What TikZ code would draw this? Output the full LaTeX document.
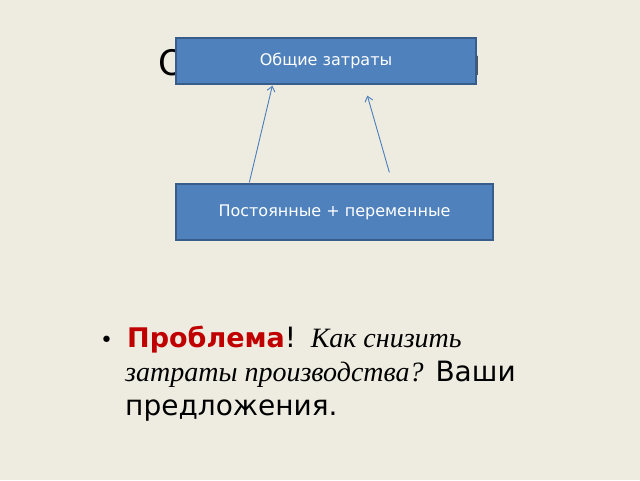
\documentclass[tikz,border=0pt]{standalone}
\usepackage{fontspec}
\setmainfont{DejaVu Sans}
\newfontfamily\serifit{Liberation Serif}
\usetikzlibrary{arrows.meta}
\definecolor{bg}{HTML}{EEECE1}
\definecolor{boxfill}{HTML}{4F81BD}
\definecolor{boxline}{HTML}{385D8A}
\definecolor{arrowc}{HTML}{4A7EBB}
\definecolor{probred}{HTML}{C00000}
\tikzset{
  bluebox/.style={draw=boxline, line width=1.3pt, fill=boxfill, text=white,
    inner sep=0pt, font=\fontsize{16}{19}\selectfont},
  link/.style={draw=arrowc, line width=0.9pt, -{Straight Barb[length=5pt,width=8pt]}},
  bodyline/.style={anchor=base west, inner sep=0pt, font=\fontsize{28}{33}\selectfont}
}
\newcommand{\itpart}[1]{{\serifit\itshape\fontsize{28}{33}\selectfont #1}}
\begin{document}
\begin{tikzpicture}[x=1pt,y=-1pt]
\useasboundingbox[fill=bg] (0,0) rectangle (640,480);
% hidden title behind the top box
\node[anchor=base west, inner sep=0pt, font=\fontsize{35.15}{42}\selectfont] (title) at (158,75) {Общие издержки};
\node[bluebox, minimum width=300pt, minimum height=46pt] (top) at (326,61) {Общие затраты};
\node[bluebox, minimum width=317pt, minimum height=56pt] (bot) at (334.5,212) {Постоянные + переменные};
\coordinate (s1) at ([xshift=74pt,yshift=1pt]bot.north west);
\coordinate (e1) at ([xshift=97pt,yshift=-1pt]top.south west);
\coordinate (s2) at ([xshift=214pt,yshift=11pt]bot.north west);
\coordinate (e2) at ([xshift=192pt,yshift=-11pt]top.south west);
\draw[link] (s1) -- (e1);
\draw[link] (s2) -- (e2);
% bullet text
\node[bodyline, font=\fontsize{22}{26}\selectfont] (bul) at (100,347) {•};
\node[bodyline] (l1) at (127,347) {\textcolor{probred}{\bfseries\fontsize{27}{33}\selectfont Проблема}!\hspace{0.1em} \itpart{Как снизить}};
\node[bodyline] (l2) at (125,381) {\itpart{затраты производства?} Ваши};
\node[bodyline] (l3) at (125,415) {предложения.};
\end{tikzpicture}
\end{document}
